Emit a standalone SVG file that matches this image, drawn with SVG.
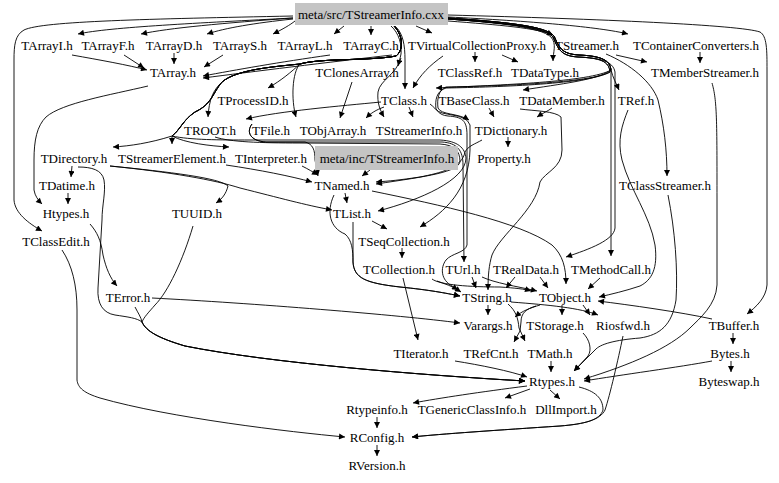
<svg xmlns="http://www.w3.org/2000/svg" width="779" height="483" viewBox="0 0 779 483">
<defs>
<marker id="ah" viewBox="0 0 10 10" refX="10" refY="5" markerWidth="7" markerHeight="6" markerUnits="userSpaceOnUse" orient="auto">
<path d="M0,0 L10,5 L0,10 z" fill="#000"/>
</marker>
<style>
text{font-family:"Liberation Serif","Times New Roman",serif;font-size:13px;fill:#000;text-anchor:middle}
.e path{fill:none;stroke:#000;stroke-width:0.9;marker-end:url(#ah)}
.hl{fill:#c4c4c4;stroke:none}
</style>
</defs>
<rect width="779" height="483" fill="#fff"/>
<g class="e" id="edges">
<path d="M293,18 C200,23 110,27 78,34"/>
<path d="M293,18 C225,23 168,28 141,34"/>
<path d="M293,19 C255,23 225,28 207,34"/>
<path d="M295,21 C290,25 283,29 273,34"/>
<path d="M344,26 L334,34"/>
<path d="M371,26 L371,35"/>
<path d="M293,16 C150,19 42,21 24,30 C15,35 14,45 14,60 L14,200 C15,213 28,223 42,231"/>
<path d="M391,26 C399,33 402,45 401,54 C400,59 399,62 398,66"/>
<path d="M395,26 C403,33 405,45 405,60 L405,89"/>
<path d="M416,26 L432,33"/>
<path d="M448,21 C500,25 537,28 553,35"/>
<path d="M448,19 C500,23 540,27 551,37 C557,44 553,52 553,61"/>
<path d="M448,17 C530,21 600,27 628,34"/>
<path d="M448,15 C600,19 740,25 760,32 C767,36 767,50 767,70 L767,285 C766,298 756,307 747,314"/>
<path d="M448,18 C505,22 546,26 554,36 C559,47 561,54 579,55 C601,56 610,60 611,70 L611,256"/>
<path d="M448,19 C505,23 545,27 553,37 C558,48 560,56 578,57 C600,58 613,61 615,72 L615,228 C614,240 590,249 566,257"/>
<path d="M448,18 C505,22 546,26 554,36 C559,47 561,54 579,55 C601,56 610,60 611,70 C613,78 616,83 619,90"/>
<path d="M448,18 C505,22 546,26 554,36 C559,47 561,54 579,55 C601,56 610,60 611,70 C598,80 560,84 523,90"/>
<path d="M448,18 C505,22 546,26 554,36 C559,47 561,54 579,55 C601,56 610,60 611,70 C590,82 500,85 436,88"/>
<path d="M448,19 C505,23 545,27 553,37 C558,48 560,56 578,57 C600,58 609,61 610,72 C590,83 500,86 446,87 C438,90 437,100 438,108 C441,115 458,113 469,120"/>
<path d="M448,19 C505,23 545,27 553,37 C558,48 560,56 578,57 C600,58 609,61 610,72 C590,84 500,87 446,88 C436,91 435,101 436,109 C440,117 466,112 470,125 L470,150 C469,190 445,212 420,227"/>
<path d="M394,26 C403,35 404,50 396,56 C370,61 320,58 300,64 C291,72 282,80 268,88"/>
<path d="M394,26 C403,35 404,50 396,56 C370,61 320,58 300,64 C292,72 291,100 296,117"/>
<path d="M394,26 C403,35 404,50 396,56 C370,61 320,58 300,64 C270,67 236,70 222,82 C213,90 209,100 208,117"/>
<path d="M394,26 C403,35 404,50 396,56 C370,61 320,58 300,64 C270,67 236,70 222,82 C212,94 212,104 195,112 C183,120 180,130 172,136 C150,143 130,146 113,147"/>
<path d="M394,26 C403,35 404,50 396,56 C370,61 320,58 300,64 C270,67 236,70 222,82 C212,94 212,104 195,112 C183,120 180,130 172,136 L172,144"/>
<path d="M394,26 C403,35 404,50 396,56 C370,61 320,58 300,64 C270,67 236,70 222,82 C212,94 212,104 195,112 C183,120 180,130 172,136 C185,143 210,146 229,147"/>
<path d="M394,26 C403,35 404,50 396,56 C370,61 320,58 300,64 C270,67 236,70 222,82 C212,94 212,104 195,112 C183,120 180,130 172,136 C190,140 220,140 250,140 L440,140 C458,141 465,148 466,158 C466,180 420,200 378,211"/>
<path d="M401,58 C396,75 380,80 378,92 C377,103 380,110 384,117"/>
<path d="M381,102 C340,106 280,111 246,119"/>
<path d="M72,55 C100,60 128,65 147,70"/>
<path d="M124,55 L144,68"/>
<path d="M174,53 L174,64"/>
<path d="M223,55 L204,67"/>
<path d="M330,55 C280,62 235,70 203,76"/>
<path d="M392,55 C330,62 250,72 203,78"/>
<path d="M148,86 C110,95 62,103 46,117 C37,126 34,140 34,160 L34,190 C35,196 38,200 42,204"/>
<path d="M443,56 C430,65 420,75 413,88"/>
<path d="M475,52 L475,62"/>
<path d="M502,55 L518,62"/>
<path d="M606,54 C630,64 652,82 658,100 C664,125 667,150 667,176"/>
<path d="M616,55 L647,62"/>
<path d="M700,52 L700,63"/>
<path d="M352,82 L340,118"/>
<path d="M384,107 C376,110 371,113 366,118"/>
<path d="M409,107 L413,117"/>
<path d="M489,108 L494,117"/>
<path d="M552,108 C548,111 543,113 537,117"/>
<path d="M520,109 C535,111 555,111 561,117 L562,150 C562,168 545,172 540,182 C536,210 500,235 492,255 C489,265 488,275 488,290"/>
<path d="M508,137 L508,147"/>
<path d="M482,140 C475,144 468,146 465,152 C462,168 440,173 420,177 C400,180 390,181 376,182"/>
<path d="M215,137 C230,142 260,143 300,143 L440,144 C454,145 460,150 460,162 C457,172 430,176 376,184"/>
<path d="M252,124 C246,132 250,141 266,142 L442,142 C457,143 463,150 463,165 L464,262"/>
<path d="M252,124 C246,132 250,141 266,142 L305,142 C313,144 315,150 315,160 L318,176"/>
<path d="M430,104 C438,110 438,115 448,116 C462,117 467,120 467,135 L467,245 C465,253 452,253 446,260 C440,268 441,280 452,286 L461,292"/>
<path d="M302,166 C308,169 313,172 318,175"/>
<path d="M370,170 L362,176"/>
<path d="M226,165 C260,170 290,176 312,182"/>
<path d="M72,166 L71,177"/>
<path d="M68,193 L68,204"/>
<path d="M110,166 C170,172 220,178 228,186 C226,194 222,199 216,203"/>
<path d="M110,166 C170,172 215,180 240,188 C280,198 305,205 332,210"/>
<path d="M78,167 C92,167 102,170 104,180 C106,192 102,205 102,220 L98,288 C97,304 103,313 115,315 C128,317 137,318 142,322 C146,331 158,338 185,346 C270,363 420,375 525,381"/>
<path d="M90,224 C97,232 101,240 103,255 C106,268 110,278 117,286"/>
<path d="M193,226 C183,260 168,292 155,305 C149,312 144,317 142,322 C146,331 158,338 185,346 C270,363 420,375 525,381"/>
<path d="M135,307 C138,313 141,317 142,322 C146,331 158,338 185,346 C270,363 420,375 525,381"/>
<path d="M152,298 C250,303 400,315 460,323"/>
<path d="M62,250 C72,265 77,285 77,310 L77,380 C78,388 84,393 100,398 C170,418 290,432 345,437"/>
<path d="M345,193 L347,203"/>
<path d="M334,195 C326,212 330,228 345,234 C352,240 353,250 353,262 C354,278 365,283 400,287 C430,290 445,293 460,296"/>
<path d="M353,222 L353,262 C354,278 365,283 400,287 C430,290 445,293 460,296"/>
<path d="M372,191 C440,205 520,222 552,245 C563,255 566,268 566,284"/>
<path d="M372,221 L387,229"/>
<path d="M402,248 L402,258"/>
<path d="M403,278 L418,340"/>
<path d="M437,281 C445,284 452,286 458,290"/>
<path d="M432,279 C440,285 470,287 500,287 C515,288 525,289 531,291"/>
<path d="M472,277 L476,288"/>
<path d="M482,277 C495,283 515,286 537,291"/>
<path d="M515,277 L506,288"/>
<path d="M540,277 L548,288"/>
<path d="M600,278 L588,289"/>
<path d="M628,110 C622,125 617,140 622,160 C630,190 650,215 655,245 C658,268 652,280 640,286 C625,291 612,294 599,297"/>
<path d="M712,319 C680,312 630,305 598,301"/>
<path d="M488,305 L488,315"/>
<path d="M508,304 C516,311 518,318 519,328 L525,341"/>
<path d="M511,302 C550,305 580,308 598,315"/>
<path d="M540,305 C530,308 522,311 515,317"/>
<path d="M536,306 C526,309 521,313 521,322 L520,331 L514,342"/>
<path d="M562,305 L562,315"/>
<path d="M583,305 L590,315"/>
<path d="M583,333 C590,340 592,350 588,356 L574,371"/>
<path d="M668,195 C675,230 678,270 676,300 C672,325 660,335 640,338 C615,340 600,344 595,350 L574,371"/>
<path d="M712,83 C717,100 717,120 717,200 L717,285 C716,305 700,318 690,328 C670,348 630,365 584,379"/>
<path d="M712,361 C680,367 620,375 584,381"/>
<path d="M733,333 L733,344"/>
<path d="M731,361 L731,372"/>
<path d="M455,361 C480,365 510,371 527,377"/>
<path d="M551,361 L551,372"/>
<path d="M527,386 C480,392 440,398 413,403"/>
<path d="M530,389 L505,398"/>
<path d="M550,390 L560,399"/>
<path d="M579,387 C595,391 603,398 603,410 C600,420 585,424 560,426 C500,430 440,434 412,437"/>
<path d="M623,336 C618,360 610,395 605,410 C600,420 585,424 560,426 C500,430 440,434 412,437"/>
<path d="M377,417 L377,428"/>
<path d="M377,445 L377,456"/>
</g>
<g id="n-src"><rect class="hl" x="295" y="3" width="153" height="22"/><text x="371" y="18.5">meta/src/TStreamerInfo.cxx</text></g>
<g id="n-TArrayI"><text x="47" y="49.5">TArrayI.h</text></g>
<g id="n-TArrayF"><text x="108" y="49.5">TArrayF.h</text></g>
<g id="n-TArrayD"><text x="174" y="49.5">TArrayD.h</text></g>
<g id="n-TArrayS"><text x="240" y="49.5">TArrayS.h</text></g>
<g id="n-TArrayL"><text x="305" y="49.5">TArrayL.h</text></g>
<g id="n-TArrayC"><text x="371" y="49.5">TArrayC.h</text></g>
<g id="n-TVirtualCollectionProxy"><text x="477" y="49.5">TVirtualCollectionProxy.h</text></g>
<g id="n-TStreamer"><text x="587" y="49.5">TStreamer.h</text></g>
<g id="n-TContainerConverters"><text x="696" y="49.5">TContainerConverters.h</text></g>
<g id="n-TArray"><text x="173" y="77">TArray.h</text></g>
<g id="n-TClonesArray"><text x="357" y="77">TClonesArray.h</text></g>
<g id="n-TClassRef"><text x="470" y="77">TClassRef.h</text></g>
<g id="n-TDataType"><text x="545" y="77">TDataType.h</text></g>
<g id="n-TMemberStreamer"><text x="705" y="77">TMemberStreamer.h</text></g>
<g id="n-TProcessID"><text x="253" y="105">TProcessID.h</text></g>
<g id="n-TClass"><text x="404" y="105">TClass.h</text></g>
<g id="n-TBaseClass"><text x="474" y="105">TBaseClass.h</text></g>
<g id="n-TDataMember"><text x="562" y="105">TDataMember.h</text></g>
<g id="n-TRef"><text x="636" y="105">TRef.h</text></g>
<g id="n-TROOT"><text x="210" y="134.5">TROOT.h</text></g>
<g id="n-TFile"><text x="271" y="134.5">TFile.h</text></g>
<g id="n-TObjArray"><text x="333" y="134.5">TObjArray.h</text></g>
<g id="n-TStreamerInfo"><text x="419" y="134.5">TStreamerInfo.h</text></g>
<g id="n-TDictionary"><text x="511" y="134.5">TDictionary.h</text></g>
<g id="n-TDirectory"><text x="74" y="162.5">TDirectory.h</text></g>
<g id="n-TStreamerElement"><text x="172" y="162.5">TStreamerElement.h</text></g>
<g id="n-TInterpreter"><text x="271" y="162.5">TInterpreter.h</text></g>
<g id="n-inc"><rect class="hl" x="315" y="146" width="143" height="24"/><text x="387" y="162.5">meta/inc/TStreamerInfo.h</text></g>
<g id="n-Property"><text x="504" y="162.5">Property.h</text></g>
<g id="n-TDatime"><text x="67" y="190">TDatime.h</text></g>
<g id="n-TNamed"><text x="342" y="190">TNamed.h</text></g>
<g id="n-TClassStreamer"><text x="665" y="190">TClassStreamer.h</text></g>
<g id="n-Htypes"><text x="66" y="218">Htypes.h</text></g>
<g id="n-TUUID"><text x="197" y="218">TUUID.h</text></g>
<g id="n-TList"><text x="352" y="218">TList.h</text></g>
<g id="n-TClassEdit"><text x="56" y="246">TClassEdit.h</text></g>
<g id="n-TSeqCollection"><text x="404" y="245.5">TSeqCollection.h</text></g>
<g id="n-TCollection"><text x="399" y="274">TCollection.h</text></g>
<g id="n-TUrl"><text x="463" y="274">TUrl.h</text></g>
<g id="n-TRealData"><text x="526" y="274">TRealData.h</text></g>
<g id="n-TMethodCall"><text x="611" y="274">TMethodCall.h</text></g>
<g id="n-TError"><text x="128" y="302">TError.h</text></g>
<g id="n-TString"><text x="487" y="302">TString.h</text></g>
<g id="n-TObject"><text x="565" y="302">TObject.h</text></g>
<g id="n-Varargs"><text x="488" y="330">Varargs.h</text></g>
<g id="n-TStorage"><text x="555" y="330">TStorage.h</text></g>
<g id="n-Riosfwd"><text x="623" y="330">Riosfwd.h</text></g>
<g id="n-TBuffer"><text x="734" y="330">TBuffer.h</text></g>
<g id="n-TIterator"><text x="421" y="358">TIterator.h</text></g>
<g id="n-TRefCnt"><text x="491" y="358">TRefCnt.h</text></g>
<g id="n-TMath"><text x="550" y="358">TMath.h</text></g>
<g id="n-Bytes"><text x="730" y="358">Bytes.h</text></g>
<g id="n-Rtypes"><text x="552" y="386">Rtypes.h</text></g>
<g id="n-Byteswap"><text x="729" y="386">Byteswap.h</text></g>
<g id="n-Rtypeinfo"><text x="377" y="414">Rtypeinfo.h</text></g>
<g id="n-TGenericClassInfo"><text x="472" y="414">TGenericClassInfo.h</text></g>
<g id="n-DllImport"><text x="566" y="414">DllImport.h</text></g>
<g id="n-RConfig"><text x="377" y="442">RConfig.h</text></g>
<g id="n-RVersion"><text x="377" y="470">RVersion.h</text></g>
</svg>
